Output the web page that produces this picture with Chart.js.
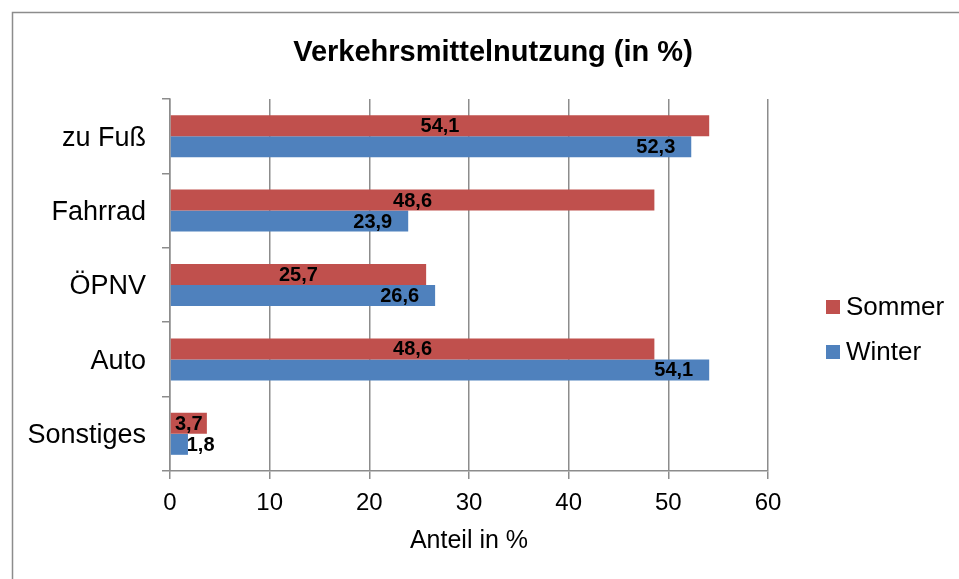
<!DOCTYPE html>
<html lang="de">
<head>
<meta charset="utf-8">
<title>Verkehrsmittelnutzung (in %)</title>
<script src="https://cdn.jsdelivr.net/npm/chart.js@4.4.1/dist/chart.umd.min.js"></script>
<style>
  html, body { margin: 0; padding: 0; background: #fff; overflow: hidden; }
  #chart { display: block; }
</style>
</head>
<body>
<canvas id="chart" width="959" height="579"></canvas>
<script>
// Daten
const kategorien = ['zu Fuß', 'Fahrrad', 'ÖPNV', 'Auto', 'Sonstiges'];
const sommer = [54.1, 48.6, 25.7, 48.6, 3.7];
const winter = [52.3, 23.9, 26.6, 54.1, 1.8];
const xTicks = [0, 10, 20, 30, 40, 50, 60];

const titel = 'Verkehrsmittelnutzung (in %)';
const achsenTitel = 'Anteil in %';

const FONT = '"Liberation Sans", Arial, sans-serif';
const ROT = '#C0504D';
const BLAU = '#4F81BD';
const GRAU = '#8c8c8c';

function fmt(v) {
  return String(v).replace('.', ',');
}

// Rahmen, Titel und Legende wie im Excel-Diagramm
const rahmenPlugin = {
  id: 'rahmen',
  beforeDraw(chart) {
    const ctx = chart.ctx;
    ctx.save();
    ctx.strokeStyle = GRAU;
    ctx.lineWidth = 1.5;
    ctx.strokeRect(12.5, 12.5, 1200, 1200);
    ctx.restore();
  },
  afterDraw(chart) {
    const ctx = chart.ctx;
    ctx.save();
    ctx.fillStyle = '#000';
    ctx.font = 'bold 29px ' + FONT;
    ctx.textAlign = 'center';
    ctx.textBaseline = 'alphabetic';
    ctx.fillText(titel, 493, 61);

    // Legende
    const eintraege = chart.data.datasets.map((ds) => ({ text: ds.label, farbe: ds.backgroundColor }));
    ctx.font = '26px ' + FONT;
    ctx.textAlign = 'left';
    eintraege.forEach((e, i) => {
      const y = 300 + i * 45;
      ctx.fillStyle = e.farbe;
      ctx.fillRect(826, y, 14, 14);
      ctx.fillStyle = '#000';
      ctx.fillText(e.text, 846, y + 15);
    });
    ctx.restore();
  },
};

// Datenbeschriftungen: Sommer mittig, Winter innen am Ende
const labelPlugin = {
  id: 'werte',
  afterDatasetsDraw(chart) {
    const ctx = chart.ctx;
    ctx.save();
    ctx.font = 'bold 20px ' + FONT;
    ctx.fillStyle = '#000';
    ctx.textBaseline = 'middle';
    chart.data.datasets.forEach((ds, di) => {
      const meta = chart.getDatasetMeta(di);
      meta.data.forEach((bar, i) => {
        const txt = fmt(ds.data[i]);
        const w = ctx.measureText(txt).width;
        const breite = bar.x - bar.base;
        let x;
        if (w > breite) {
          ctx.textAlign = 'left';
          x = bar.base + 16;
        } else if (di === 0) {
          ctx.textAlign = 'center';
          x = (bar.x + bar.base) / 2;
        } else {
          ctx.textAlign = 'right';
          x = bar.x - 16;
        }
        ctx.fillText(txt, x, bar.y + 1);
      });
    });
    ctx.restore();
  },
};

const ctx = document.getElementById('chart').getContext('2d');
new Chart(ctx, {
  type: 'bar',
  data: {
    labels: kategorien,
    datasets: [
      { label: 'Sommer', data: sommer, backgroundColor: ROT, categoryPercentage: 0.565, barPercentage: 1 },
      { label: 'Winter', data: winter, backgroundColor: BLAU, categoryPercentage: 0.565, barPercentage: 1 },
    ],
  },
  options: {
    indexAxis: 'y',
    responsive: false,
    animation: false,
    devicePixelRatio: 1,
    layout: { padding: { left: 27, right: 191, top: 99, bottom: 0 } },
    plugins: {
      legend: { display: false },
      title: { display: false },
      tooltip: { enabled: false },
    },
    scales: {
      x: {
        min: 0,
        max: 60,
        afterBuildTicks: (scale) => { scale.ticks = xTicks.map((v) => ({ value: v })); },
        afterFit: (scale) => { scale.height = 108; },
        grid: { color: GRAU, lineWidth: 1.5, tickLength: 8, drawTicks: true },
        border: { color: GRAU, width: 1.5 },
        ticks: { color: '#000', font: { family: FONT, size: 24 }, padding: 10 },
        title: {
          display: true,
          text: achsenTitel,
          color: '#000',
          font: { family: FONT, size: 25 },
          padding: { top: 0, bottom: 23 },
        },
      },
      y: {
        afterFit: (scale) => { scale.width = 143; },
        grid: { drawOnChartArea: false, color: GRAU, lineWidth: 1.5, tickLength: 8, offset: true },
        border: { color: GRAU, width: 1.5 },
        ticks: { color: '#000', font: { family: FONT, size: 27 }, padding: 16, labelOffset: 2 },
      },
    },
  },
  plugins: [rahmenPlugin, labelPlugin],
});
</script>
</body>
</html>
